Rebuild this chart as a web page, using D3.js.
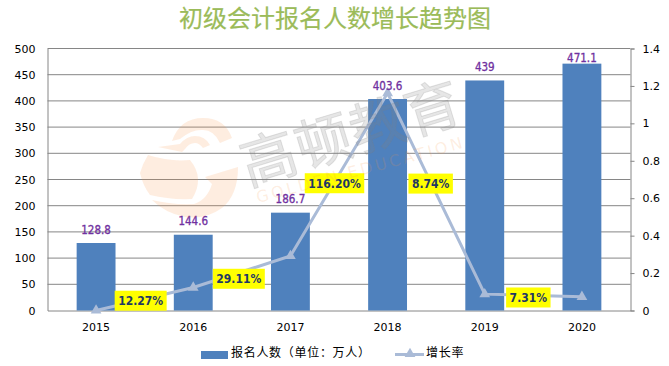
<!DOCTYPE html>
<html>
<head>
<meta charset="utf-8">
<script src="https://cdnjs.cloudflare.com/ajax/libs/d3/7.8.5/d3.min.js"></script>
<style>
html, body { margin: 0; padding: 0; background: #fff; }
svg { display: block; }
text { font-family: "DejaVu Sans", sans-serif; }
</style>
</head>
<body>
<svg width="669" height="366"></svg>
<script>
var years = ["2015", "2016", "2017", "2018", "2019", "2020"];
var applicants = [128.8, 144.6, 186.7, 403.6, 439, 471.1];
var growth = [0, 0.1227, 0.2911, 1.162, 0.0874, 0.0731];
var growthLabels = ["12.27%", "29.11%", "116.20%", "8.74%", "7.31%"];
var leftTicks = [0, 50, 100, 150, 200, 250, 300, 350, 400, 450, 500];
var rightTicks = [0, 0.2, 0.4, 0.6, 0.8, 1, 1.2, 1.4];

var svg = d3.select("svg");
var margin = {"top": 48.5, "right": 38.5, "bottom": 55.5, "left": 47.5};
var width = +svg.attr("width") - margin.left - margin.right;
var height = +svg.attr("height") - margin.top - margin.bottom;
var cjk = '"Noto Sans CJK SC", sans-serif';

svg.append("text")
    .attr("x", 335).attr("y", 27)
    .attr("text-anchor", "middle")
    .style("font-family", cjk)
    .style("font-size", "24px")
    .style("fill", "#9bbb59")
    .style("stroke", "#9bbb59")
    .style("stroke-width", 0.2)
    .text("初级会计报名人数增长趋势图");

var g = svg.append("g").attr("transform", "translate(" + margin.left + "," + margin.top + ")");

var x = d3.scaleBand().domain(years).range([0, width]).paddingInner(0.6).paddingOuter(0.3);
var xPoint = function (d) { return x(d) + x.bandwidth() / 2; };
var y = d3.scaleLinear().domain([0, 500]).range([height, 0]);
var yRight = d3.scaleLinear().domain([0, 1.4]).range([height, 0]);

// gridlines
g.append("g").selectAll("line")
    .data(leftTicks.slice(1))
    .enter().append("line")
    .attr("x1", 0).attr("x2", width)
    .attr("y1", function (d) { return y(d); })
    .attr("y2", function (d) { return y(d); })
    .style("stroke", "#868686");

// axes
var axisLeft = g.append("g").call(d3.axisLeft(y).tickValues(leftTicks).tickSize(0).tickPadding(12));
var axisRight = g.append("g").attr("transform", "translate(" + width + ",0)")
    .call(d3.axisRight(yRight).tickValues(rightTicks).tickSize(4).tickPadding(8).tickFormat(function (d) { return String(d); }));
var axisBottom = g.append("g").attr("transform", "translate(0," + height + ")")
    .call(d3.axisBottom(x).tickSize(0).tickPadding(13));
[axisLeft, axisRight, axisBottom].forEach(function (a) {
    a.selectAll("path").style("stroke", "#868686");
    a.selectAll("line").style("stroke", "#868686");
    a.selectAll("text").style("font-family", '"DejaVu Sans", sans-serif').style("font-size", "11px").style("fill", "#000");
});

// bars
g.selectAll(".bar")
    .data(applicants)
    .enter().append("rect")
    .attr("class", "bar")
    .attr("x", function (d, i) { return x(years[i]); })
    .attr("y", function (d) { return y(d); })
    .attr("width", x.bandwidth())
    .attr("height", function (d) { return height - y(d); })
    .style("fill", "#4f81bd");

// growth line
var line = d3.line()
    .x(function (d, i) { return xPoint(years[i]); })
    .y(function (d) { return yRight(d); });

g.append("path")
    .datum(growth)
    .attr("d", line)
    .style("fill", "none")
    .style("stroke", "#aabbd7")
    .style("stroke-width", 3);

var triangle = d3.symbol().type(d3.symbolTriangle).size(50);
g.selectAll(".marker")
    .data(growth)
    .enter().append("path")
    .attr("class", "marker")
    .attr("d", triangle)
    .attr("transform", function (d, i) { return "translate(" + xPoint(years[i]) + "," + yRight(d) + ")"; })
    .style("fill", "#aabbd7");

// watermark lies over the bars and the line, under the labels
var mark = svg.append("g");
var logoColor = "#f79646";
var logo = mark.append("g").style("fill", logoColor).style("fill-opacity", 0.17);
logo.append("path").attr("d", "M172,141 Q180,118 203,118 Q225,118 232,138 L220,143 Q214,130 203,130 Q192,129 180,139 Z");
logo.append("path").attr("d", "M158,147 L180,144 Q187,136 195,136 Q205,136 210,145 L203,148 Q199,143 195,143 Q189,143 185,149 L182,152 Z");
logo.append("path").attr("d", "M148,155 Q170,162 190,160 Q205,178 192,199 Q170,200 150,195 Q143,186 140,173 Q143,163 148,155 Z");
logo.append("path").attr("d", "M205,177 L238,167 Q238,195 222,208 Q205,220 185,217 Q165,213 152,200 Q172,205 194,204 Q207,200 212,184 Z");
mark.append("text")
    .attr("transform", "translate(248,186) rotate(-17)")
    .style("font-family", cjk).style("font-size", "56px").style("letter-spacing", "1px")
    .style("fill", "#808080").style("fill-opacity", 0.2)
    .style("stroke", "#808080").style("stroke-opacity", 0.2).style("stroke-width", 1)
    .text("高顿教育");
mark.append("text")
    .attr("transform", "translate(258,203) rotate(-15)")
    .style("font-size", "16px").style("letter-spacing", "3px")
    .style("fill", logoColor).style("fill-opacity", 0.17)
    .text("GOLDEN EDUCATION");

// value labels over the bars; the tallest one is held inside the plot
g.selectAll(".bar-label")
    .data(applicants)
    .enter().append("text")
    .attr("class", "bar-label")
    .attr("x", function (d, i) { return xPoint(years[i]); })
    .attr("y", function (d) { return Math.max(y(d) - 9.5, 13); })
    .attr("text-anchor", "middle")
    .style("font-size", "11.5px")
    .style("font-stretch", "condensed")
    .style("fill", "#7030a0")
    .style("stroke", "#7030a0")
    .style("stroke-width", 0.3)
    .text(function (d) { return d; });

// yellow growth labels, near the middle of each segment
var nudgeX = [-4, -3, -4.5, -5.5, -5];
var nudgeY = [1.7, 7, 8.7, -10, 2];
var labels = g.selectAll(".growth-label")
    .data(growthLabels)
    .enter().append("g")
    .attr("class", "growth-label")
    .attr("transform", function (d, i) {
        var px = (xPoint(years[i]) + xPoint(years[i + 1])) / 2 + nudgeX[i];
        var py = (yRight(growth[i]) + yRight(growth[i + 1])) / 2 + nudgeY[i];
        return "translate(" + px + "," + py + ")";
    });
var labelRects = labels.append("rect")
    .attr("y", -10)
    .attr("height", 20)
    .style("fill", "#ffff00");
var labelTexts = labels.append("text")
    .attr("y", 4.5)
    .attr("text-anchor", "middle")
    .style("font-size", "12px")
    .style("font-weight", "bold")
    .style("font-stretch", "condensed")
    .style("fill", "#1f3864")
    .text(function (d) { return d; });
labelTexts.each(function (d, i) {
    var w = this.getComputedTextLength() + 7;
    d3.select(labelRects.nodes()[i]).attr("x", -w / 2).attr("width", w);
});

// legend
var legend = svg.append("g");
legend.append("rect").attr("x", 201).attr("y", 351).attr("width", 27).attr("height", 8).style("fill", "#4f81bd");
legend.append("text").attr("x", 231).attr("y", 357)
    .style("font-family", cjk).style("font-size", "12px").style("letter-spacing", "0.7px").style("fill", "#000")
    .text("报名人数（单位：万人）");
legend.append("line").attr("x1", 395).attr("x2", 424).attr("y1", 354.5).attr("y2", 354.5)
    .style("stroke", "#aabbd7").style("stroke-width", 3);
legend.append("path").attr("d", triangle).attr("transform", "translate(410,354)").style("fill", "#aabbd7");
legend.append("text").attr("x", 426).attr("y", 357)
    .style("font-family", cjk).style("font-size", "12px").style("letter-spacing", "0.7px").style("fill", "#000")
    .text("增长率");
</script>
</body>
</html>
